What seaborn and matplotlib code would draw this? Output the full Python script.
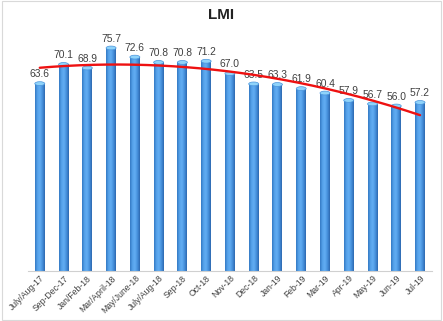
import numpy as np
import pandas as pd
import matplotlib
matplotlib.use("Agg")
import matplotlib.pyplot as plt
import seaborn as sns
from matplotlib.patches import Ellipse, Rectangle
from matplotlib.colors import LinearSegmentedColormap

periods = ["July/Aug-17", "Sep-Dec-17", "Jan/Feb-18", "Mar/April-18", "May/June-18",
           "July/Aug-18", "Sep-18", "Oct-18", "Nov-18", "Dec-18", "Jan-19", "Feb-19",
           "Mar-19", "Apr-19", "May-19", "Jun-19", "Jul-19"]
lmi = [63.6, 70.1, 68.9, 75.7, 72.6, 70.8, 70.8, 71.2, 67.0, 63.5, 63.3, 61.9,
       60.4, 57.9, 56.7, 56.0, 57.2]

df = pd.DataFrame({"period": periods, "lmi": lmi})

sns.set_style("white")
plt.rcParams['font.family'] = ['Liberation Sans', 'DejaVu Sans']

fig = plt.figure(figsize=(4.43, 3.21), dpi=100)
ax = fig.add_axes([0.063, 0.156, 0.912, 0.734])

bw = 0.42
sns.barplot(data=df, x="period", y="lmi", color="#4a94dc", width=bw, ax=ax,
            edgecolor="none", saturation=1)

# cylinder-like gradient shading
grad = np.linspace(0, 1, 64).reshape(1, -1)
cmap = LinearSegmentedColormap.from_list(
    "cyl", ["#3479c4", "#55a2ea", "#62adf2", "#4690dc", "#2d69b0"])
for p in list(ax.patches):
    x0, w, h = p.get_x(), p.get_width(), p.get_height()
    im = ax.imshow(grad, extent=[x0, x0 + w, 0, h], aspect="auto", cmap=cmap,
                   origin="lower", zorder=p.get_zorder() + 0.1)
    im.set_clip_path(p)
    ell = Ellipse((x0 + w / 2, h), w, 1.3, facecolor="#8fd3fa", edgecolor="#4a94dc",
                  linewidth=0.5, zorder=p.get_zorder() + 0.2)
    ax.add_patch(ell)
    ax.text(x0 + w / 2, h + 3.1, f"{h:.1f}", ha="center", va="center",
            fontsize=7.4, color="#404040")

# polynomial (order 2) trend line
xs = np.arange(len(lmi))
coef = np.polyfit(xs, lmi, 2)
xx = np.linspace(0, len(lmi) - 1, 200)
ax.plot(xx, np.polyval(coef, xx), color="#ee1111", linewidth=1.7, zorder=10)

ax.set_ylim(0, 80)
ax.set_xlim(-0.5, len(lmi) - 0.5)
ax.set_yticks([])
ax.set_xlabel("")
ax.set_ylabel("")
for s in ["left", "right", "top"]:
    ax.spines[s].set_visible(False)
ax.spines["bottom"].set_color("#d0d0d0")
ax.spines["bottom"].set_linewidth(0.8)
ax.tick_params(axis="x", length=0, pad=2)
plt.setp(ax.get_xticklabels(), rotation=45, ha="right", rotation_mode="anchor",
         fontsize=6.2, color="#404040")

fig.text(0.5, 0.952, "LMI", ha="center", va="center", fontsize=11, fontweight="bold",
         color="#222222")

fig.patches.append(Rectangle((0.004, 0.004), 0.992, 0.992, transform=fig.transFigure,
                             fill=False, edgecolor="#d9d9d9", linewidth=0.8))

fig.savefig("out.png", dpi=100)
